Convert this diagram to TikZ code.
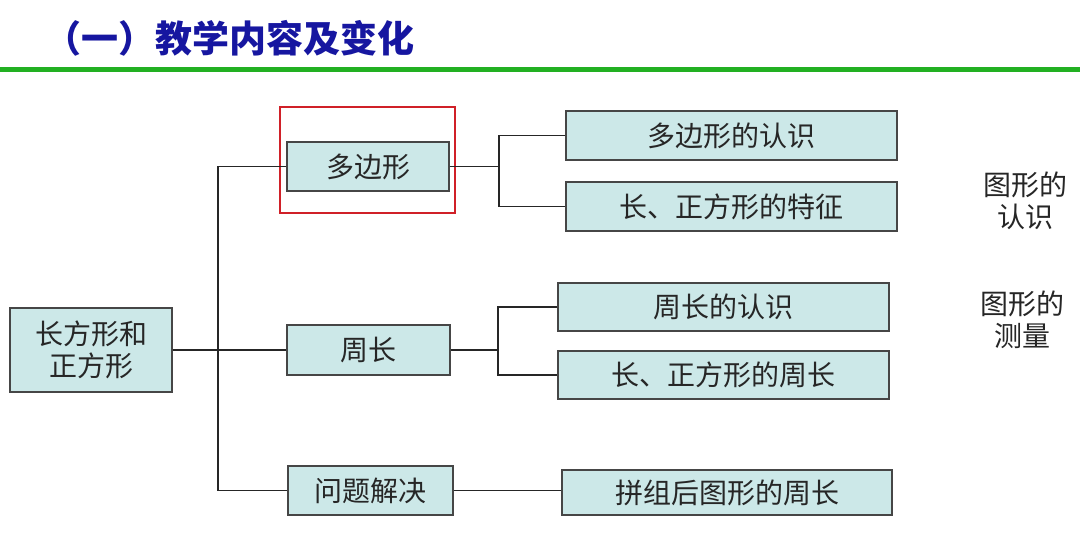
\documentclass[tikz,border=0pt]{standalone}
\usepackage{fontspec}
\newfontfamily\cjk{Noto Sans CJK SC}
\usepackage{tikz}
\usetikzlibrary{positioning}

\definecolor{boxfill}{RGB}{204,232,232}
\definecolor{boxline}{RGB}{70,70,70}
\definecolor{titleblue}{RGB}{22,22,160}
\definecolor{rulegreen}{RGB}{34,176,34}
\definecolor{markred}{RGB}{208,32,40}

\tikzset{
    topic/.style={draw=boxline, line width=1.2pt, fill=boxfill, rectangle,
        inner sep=0pt, align=center, text=black!85,
        font=\cjk\fontsize{28}{32}\selectfont},
    link/.style={line width=1.7pt, black!85},
    side/.style={align=center, inner sep=0pt, text=black!85,
        font=\cjk\fontsize{28}{32}\selectfont}
}

\begin{document}
\begin{tikzpicture}[x=1pt,y=-1pt]
\useasboundingbox (0,0) rectangle (1080,534);

\node[font=\cjk\bfseries\fontsize{37}{40}\selectfont, text=titleblue, anchor=west, inner sep=0pt] (title) at (44,38) {（一）教学内容及变化};
\draw[rulegreen, line width=5pt] (0,70) -- (1080,70);

\node[topic, minimum width=162, minimum height=84] (main) at (91,350) {长方形和\\正方形};

\node[topic, minimum width=162, minimum height=49] (poly) at (368,166.5) {多边形};
\node[topic, minimum width=163, minimum height=50] (zhou) at (368.5,350) {周长};
\node[topic, minimum width=165, minimum height=49] (solve) at (370.5,490.5) {问题解决};

\node[draw=markred, line width=2pt, minimum width=175, minimum height=106, inner sep=0pt] (hl) at (367.5,160) {};

\node[topic, minimum width=331, minimum height=49] (r1) at (731.5,135.5) {多边形的认识};
\node[topic, minimum width=331, minimum height=49] (r2) at (731.5,206.5) {长、正方形的特征};
\node[topic, minimum width=331, minimum height=48] (r3) at (723.5,307) {周长的认识};
\node[topic, minimum width=331, minimum height=48] (r4) at (723.5,375) {长、正方形的周长};
\node[topic, minimum width=330, minimum height=45] (r5) at (727,492.5) {拼组后图形的周长};

\node[side] (s1) at (1025,201) {图形的\\认识};
\node[side] (s2) at (1022,320) {图形的\\测量};

\coordinate (trunk) at (218,350);
\coordinate (j1) at (499,166.5);
\coordinate (j2) at (498,350);

\draw[link] (main.east) -- (zhou.west);
\draw[link] (poly.west) -| (trunk) |- (solve.west);
\draw[link] (poly.east) -- (j1);
\draw[link] (r1.west) -| (j1) |- (r2.west);
\draw[link] (zhou.east) -- (j2);
\draw[link] (r3.west) -| (j2) |- (r4.west);
\draw[link] (solve.east) -- (r5.west |- solve.east);
\end{tikzpicture}
\end{document}
